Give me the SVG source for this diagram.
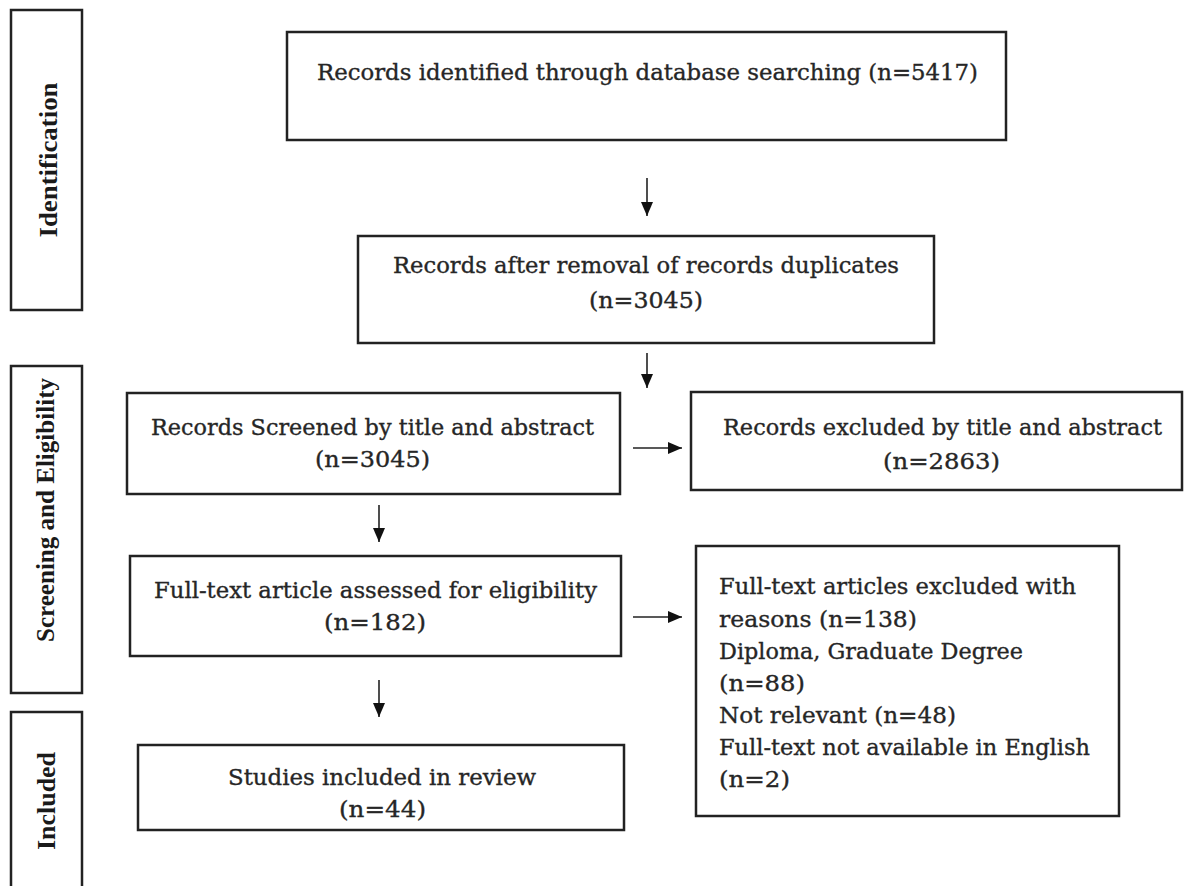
<svg xmlns="http://www.w3.org/2000/svg" width="1186" height="886" viewBox="0 0 1186 886">
<style>
.box{fill:#fff;stroke:#222;stroke-width:2.5}
.t{font-family:"DejaVu Serif","Liberation Serif",serif;font-size:22.5px;fill:#262626;stroke:#262626;stroke-width:0.35}
.lab{font-family:"Liberation Serif","DejaVu Serif",serif;font-size:25px;font-weight:bold;fill:#1a1a1a}
.conn{stroke:#222;stroke-width:1.6;fill:none}
</style>
<defs>
<marker id="ah" viewBox="0 0 14 12" refX="14" refY="6" markerWidth="14" markerHeight="12" markerUnits="userSpaceOnUse" orient="auto">
<path d="M0,0 L14,6 L0,12 Z" fill="#111"/>
</marker>
</defs>
<rect width="1186" height="886" fill="#fff"/>

<g id="stage-identification">
<rect class="box" x="11" y="10" width="71" height="300"/>
<text class="lab" transform="translate(57,160) rotate(-90)" text-anchor="middle" textLength="155" lengthAdjust="spacingAndGlyphs">Identification</text>
</g>
<g id="stage-screening">
<rect class="box" x="11" y="366" width="71" height="327"/>
<text class="lab" transform="translate(54,510) rotate(-90)" text-anchor="middle" textLength="264" lengthAdjust="spacingAndGlyphs">Screening and Eligibility</text>
</g>
<g id="stage-included">
<rect class="box" x="11" y="712" width="71" height="180"/>
<text class="lab" transform="translate(55,801) rotate(-90)" text-anchor="middle" textLength="98" lengthAdjust="spacingAndGlyphs">Included</text>
</g>

<g id="identified">
<rect class="box" x="287" y="32" width="719" height="108"/>
<text class="t" x="317" y="80" textLength="661" lengthAdjust="spacingAndGlyphs">Records identified through database searching (n=5417)</text>
</g>
<g id="after-duplicates">
<rect class="box" x="358" y="236" width="576" height="107"/>
<text class="t" x="393" y="273" textLength="506" lengthAdjust="spacingAndGlyphs">Records after removal of records duplicates</text>
<text class="t" x="589" y="308" textLength="114" lengthAdjust="spacingAndGlyphs">(n=3045)</text>
</g>
<g id="screened">
<rect class="box" x="127" y="393" width="493" height="101"/>
<text class="t" x="151" y="435" textLength="443" lengthAdjust="spacingAndGlyphs">Records Screened by title and abstract</text>
<text class="t" x="315" y="467" textLength="115" lengthAdjust="spacingAndGlyphs">(n=3045)</text>
</g>
<g id="excluded-title">
<rect class="box" x="691" y="392" width="491" height="98"/>
<text class="t" x="723" y="435" textLength="439" lengthAdjust="spacingAndGlyphs">Records excluded by title and abstract</text>
<text class="t" x="883" y="469" textLength="117" lengthAdjust="spacingAndGlyphs">(n=2863)</text>
</g>
<g id="assessed">
<rect class="box" x="130" y="556" width="491" height="100"/>
<text class="t" x="154" y="598" textLength="443" lengthAdjust="spacingAndGlyphs">Full-text article assessed for eligibility</text>
<text class="t" x="324" y="630" textLength="102" lengthAdjust="spacingAndGlyphs">(n=182)</text>
</g>
<g id="excluded-fulltext">
<rect class="box" x="696" y="546" width="423" height="270"/>
<text class="t" x="719" y="594" textLength="357" lengthAdjust="spacingAndGlyphs">Full-text articles excluded with</text>
<text class="t" x="719" y="627" textLength="198" lengthAdjust="spacingAndGlyphs">reasons (n=138)</text>
<text class="t" x="719" y="659" textLength="304" lengthAdjust="spacingAndGlyphs">Diploma, Graduate Degree</text>
<text class="t" x="719" y="691" textLength="86" lengthAdjust="spacingAndGlyphs">(n=88)</text>
<text class="t" x="719" y="723" textLength="237" lengthAdjust="spacingAndGlyphs">Not relevant (n=48)</text>
<text class="t" x="719" y="755" textLength="371" lengthAdjust="spacingAndGlyphs">Full-text not available in English</text>
<text class="t" x="719" y="787" textLength="71" lengthAdjust="spacingAndGlyphs">(n=2)</text>
</g>
<g id="included">
<rect class="box" x="138" y="745" width="486" height="85"/>
<text class="t" x="228" y="785" textLength="308" lengthAdjust="spacingAndGlyphs">Studies included in review</text>
<text class="t" x="339" y="817" textLength="87" lengthAdjust="spacingAndGlyphs">(n=44)</text>
</g>

<g id="connectors">
<line class="conn" x1="647" y1="178" x2="647" y2="216" marker-end="url(#ah)"/>
<line class="conn" x1="647" y1="353" x2="647" y2="388" marker-end="url(#ah)"/>
<line class="conn" x1="633" y1="448" x2="682" y2="448" marker-end="url(#ah)"/>
<line class="conn" x1="379" y1="505" x2="379" y2="542" marker-end="url(#ah)"/>
<line class="conn" x1="633" y1="617" x2="682" y2="617" marker-end="url(#ah)"/>
<line class="conn" x1="379" y1="680" x2="379" y2="717" marker-end="url(#ah)"/>
</g>
</svg>
